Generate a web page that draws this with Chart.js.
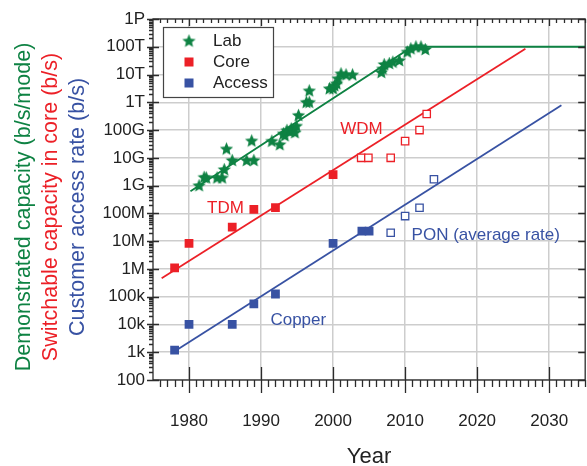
<!DOCTYPE html>
<html>
<head>
<meta charset="utf-8">
<script src="https://cdn.jsdelivr.net/npm/chart.js@4.4.0/dist/chart.umd.min.js"></script>
<style>
  html, body { margin: 0; padding: 0; background: #fff; overflow: hidden; }
  #wrap { width: 600px; height: 466px; }
</style>
</head>
<body>
<div id="wrap"><canvas id="chart"></canvas></div>
<script>
// values (year, bit rate in b/s)
const labYears = [1981.4, 1982.1, 1982.4, 1983.9, 1984.6, 1984.9, 1985.2, 1986, 1988, 1988.7, 1989,
  1991.5, 1992.6, 1993.1, 1993.3, 1993.6, 1994, 1994.2, 1994.5, 1994.7, 1994.9, 1995.2,
  1996.3, 1996.7, 1996.7, 1999.5, 2000, 2000.2, 2000.5, 2000.7, 2001.1, 2001.8, 2002.7,
  2006.7, 2006.9, 2007.1, 2007.8, 2008.3, 2009.2, 2010.3, 2010.8, 2011.5, 2012.2, 2012.8];
const labRates = [1.0e9, 2.0e9, 1.9e9, 1.9e9, 1.9e9, 3.8e9, 2.1e10, 8.1e9, 8.1e9, 4.1e10, 8.1e9,
  4.0e10, 3.0e10, 7.4e10, 6.3e10, 9.8e10, 8.9e10, 1.1e11, 1.0e11, 8.1e10, 1.4e11, 3.4e11,
  1.0e12, 1.0e12, 2.6e12, 3.1e12, 3.1e12, 4.0e12, 4.7e12, 7.1e12, 1.07e13, 9.8e12, 9.8e12,
  1.2e13, 1.6e13, 2.3e13, 2.5e13, 2.8e13, 3.2e13, 6.5e13, 8.5e13, 1.0e14, 1.0e14, 8.0e13];

const coreYears = [1978, 1980, 1986, 1989, 1992, 2000];
const coreRates = [1.1e6, 8.3e6, 3.2e7, 1.4e8, 1.6e8, 2.5e9];
const wdmYears = [2003.9, 2004.9, 2008, 2010, 2012, 2013];
const wdmRates = [1.0e10, 1.0e10, 1.0e10, 4.0e10, 1.0e11, 3.8e11];

const accessYears = [1978, 1980, 1986, 1989, 1992, 2000, 2004, 2005];
const accessRates = [1.2e3, 1.0e4, 1.0e4, 5.5e4, 1.25e5, 8.3e6, 2.3e7, 2.3e7];
const ponYears = [2008, 2010, 2012, 2014];
const ponRates = [2.0e7, 8.0e7, 1.6e8, 1.7e9];

// trend lines
const labTrendYears = [1980.2, 2011, 2035];
const labTrendRates = [6.3e8, 1.0e14, 1.0e14];
const coreTrendYears = [1976.2, 2026.7];
const coreTrendRates = [4.6e5, 8.5e13];
const accessTrendYears = [1978.4, 2031.7];
const accessTrendRates = [1.26e3, 7.8e11];

const xTicks = [1980, 1990, 2000, 2010, 2020, 2030];
const yTicks = [1e2, 1e3, 1e4, 1e5, 1e6, 1e7, 1e8, 1e9, 1e10, 1e11, 1e12, 1e13, 1e14, 1e15];
const yTickLabels = ['100', '1k', '10k', '100k', '1M', '10M', '100M', '1G', '10G', '100G', '1T', '10T', '100T', '1P'];

const GREEN = '#0e8243';
const RED = '#ec2027';
const BLUE = '#3852a3';
const FONT = "'Liberation Sans', Arial, Helvetica, sans-serif";

const pts = (xs, ys) => xs.map((x, i) => ({ x, y: ys[i] }));

// filled five point star used as the Lab marker
const makeStar = (color) => {
  const c = document.createElement('canvas');
  c.width = 15; c.height = 15;
  const g = c.getContext('2d');
  g.fillStyle = color;
  g.beginPath();
  for (let i = 0; i < 10; i++) {
    const r = i % 2 === 0 ? 7 : 3.2;
    const a = -Math.PI / 2 + i * Math.PI / 5;
    g.lineTo(7.5 + r * Math.cos(a), 7.8 + r * Math.sin(a));
  }
  g.closePath();
  g.fill();
  return c;
};
const star = makeStar(GREEN);

const frame = {
  id: 'frame',
  afterDraw(chart) {
    const { ctx, chartArea: a, scales: { x, y } } = chart;
    ctx.save();

    // box and tick marks
    ctx.strokeStyle = '#2b2b2b';
    ctx.lineWidth = 1.3;
    ctx.strokeRect(a.left, a.top, a.right - a.left, a.bottom - a.top);
    ctx.beginPath();
    for (let yr = 1976; yr <= 2035; yr++) {
      const px = Math.round(x.getPixelForValue(yr)) + 0.5;
      if (yr % 10 === 0) {
        ctx.moveTo(px, a.bottom - 13); ctx.lineTo(px, a.bottom + 13);
        ctx.moveTo(px, a.top); ctx.lineTo(px, a.top + 7);
      } else {
        ctx.moveTo(px, a.bottom); ctx.lineTo(px, a.bottom + 7);
        ctx.moveTo(px, a.top); ctx.lineTo(px, a.top + 4);
      }
    }
    yTicks.forEach((v, i) => {
      const py = Math.round(y.getPixelForValue(v)) + 0.5;
      ctx.moveTo(a.left - 6, py); ctx.lineTo(a.left + 6, py);
      ctx.moveTo(a.right - 7, py); ctx.lineTo(a.right, py);
      if (i < yTicks.length - 1) {
        for (let m = 2; m < 10; m++) {
          const pm = Math.round(y.getPixelForValue(m * v)) + 0.5;
          ctx.moveTo(a.left - 4, pm); ctx.lineTo(a.left, pm);
        }
      }
    });
    ctx.stroke();

    // legend
    const lx = 163, ly = 27;
    ctx.fillStyle = '#fff';
    ctx.fillRect(lx, ly, 110, 70);
    ctx.strokeStyle = '#444';
    ctx.lineWidth = 1.2;
    ctx.strokeRect(lx + 0.5, ly + 0.5, 110, 70);
    ctx.drawImage(star, 189 - 7.5, 41 - 7.5);
    ctx.fillStyle = RED;
    ctx.fillRect(189 - 4.5, 62 - 4.5, 9, 9);
    ctx.fillStyle = BLUE;
    ctx.fillRect(189 - 4.5, 83 - 4.5, 9, 9);
    ctx.font = '17px ' + FONT;
    ctx.fillStyle = '#222';
    ctx.textAlign = 'left';
    ctx.textBaseline = 'middle';
    ctx.fillText('Lab', 213, 41);
    ctx.fillText('Core', 213, 62);
    ctx.fillText('Access', 213, 83);

    // labels in the plot
    const notes = [
      { text: 'TDM', year: 1982.5, rate: 1.5e8, color: RED },
      { text: 'WDM', year: 2001.0, rate: 1.07e11, color: RED },
      { text: 'Copper', year: 1991.3, rate: 1.45e4, color: BLUE },
      { text: 'PON (average rate)', year: 2010.9, rate: 1.66e7, color: BLUE },
    ];
    notes.forEach((n) => {
      ctx.fillStyle = n.color;
      ctx.fillText(n.text, x.getPixelForValue(n.year), y.getPixelForValue(n.rate));
    });

    // three coloured y titles
    const titles = [
      { text: 'Demonstrated capacity (b/s/mode)', color: GREEN, x: 24 },
      { text: 'Switchable capacity in core (b/s)', color: RED, x: 51 },
      { text: 'Customer access rate (b/s)', color: BLUE, x: 78 },
    ];
    ctx.font = '21.5px ' + FONT;
    ctx.textAlign = 'center';
    titles.forEach((t) => {
      ctx.save();
      ctx.translate(t.x, 207);
      ctx.rotate(-Math.PI / 2);
      ctx.fillStyle = t.color;
      ctx.fillText(t.text, 0, 0);
      ctx.restore();
    });
    ctx.restore();
  },
};

Chart.defaults.font.family = FONT;
Chart.defaults.color = '#222';

new Chart(document.getElementById('chart'), {
  type: 'scatter',
  data: {
    datasets: [
      {
        label: 'Lab',
        data: pts(labYears, labRates),
        pointStyle: star,
        pointRadius: 7,
      },
      {
        label: 'Core',
        data: pts(coreYears, coreRates),
        pointStyle: 'rect',
        pointRadius: 6.2,
        backgroundColor: RED,
        borderWidth: 0,
      },
      {
        label: 'Core WDM',
        data: pts(wdmYears, wdmRates),
        pointStyle: 'rect',
        pointRadius: 5.2,
        backgroundColor: '#fff',
        borderColor: RED,
        borderWidth: 1.3,
      },
      {
        label: 'Access',
        data: pts(accessYears, accessRates),
        pointStyle: 'rect',
        pointRadius: 6.2,
        backgroundColor: BLUE,
        borderWidth: 0,
      },
      {
        label: 'Access PON',
        data: pts(ponYears, ponRates),
        pointStyle: 'rect',
        pointRadius: 5.2,
        backgroundColor: '#fff',
        borderColor: BLUE,
        borderWidth: 1.3,
      },
      {
        label: 'Lab trend',
        data: pts(labTrendYears, labTrendRates),
        showLine: true,
        pointRadius: 0,
        borderColor: GREEN,
        borderWidth: 1.8,
      },
      {
        label: 'Core trend',
        data: pts(coreTrendYears, coreTrendRates),
        showLine: true,
        pointRadius: 0,
        borderColor: RED,
        borderWidth: 1.8,
      },
      {
        label: 'Access trend',
        data: pts(accessTrendYears, accessTrendRates),
        showLine: true,
        pointRadius: 0,
        borderColor: BLUE,
        borderWidth: 1.8,
      },
    ],
  },
  options: {
    responsive: true,
    maintainAspectRatio: false,
    animation: false,
    layout: { padding: { top: 19, right: 11, left: 0, bottom: 0 } },
    plugins: { legend: { display: false }, tooltip: { enabled: false } },
    scales: {
      x: {
        type: 'linear',
        min: 1975,
        max: 2035,
        afterBuildTicks: (s) => { s.ticks = xTicks.map((v) => ({ value: v })); },
        afterFit: (s) => { s.height = 86; },
        ticks: { padding: 31, font: { size: 17 }, color: '#222', callback: (v) => String(v) },
        grid: { color: '#cdcdcd', lineWidth: 1.5, drawTicks: false },
        border: { display: false },
        title: { display: true, text: 'Year', font: { size: 22, lineHeight: 0.85 }, padding: 0, color: '#222' },
      },
      y: {
        type: 'logarithmic',
        min: 1e2,
        max: 1e15,
        afterBuildTicks: (s) => { s.ticks = yTicks.map((v) => ({ value: v })); },
        afterFit: (s) => { s.width = 153; },
        ticks: { padding: 8, font: { size: 17 }, color: '#222', callback: (v, i) => yTickLabels[i] },
        grid: { color: '#cdcdcd', lineWidth: 1.5, drawTicks: false },
        border: { display: false },
      },
    },
  },
  plugins: [frame],
});
</script>
</body>
</html>
